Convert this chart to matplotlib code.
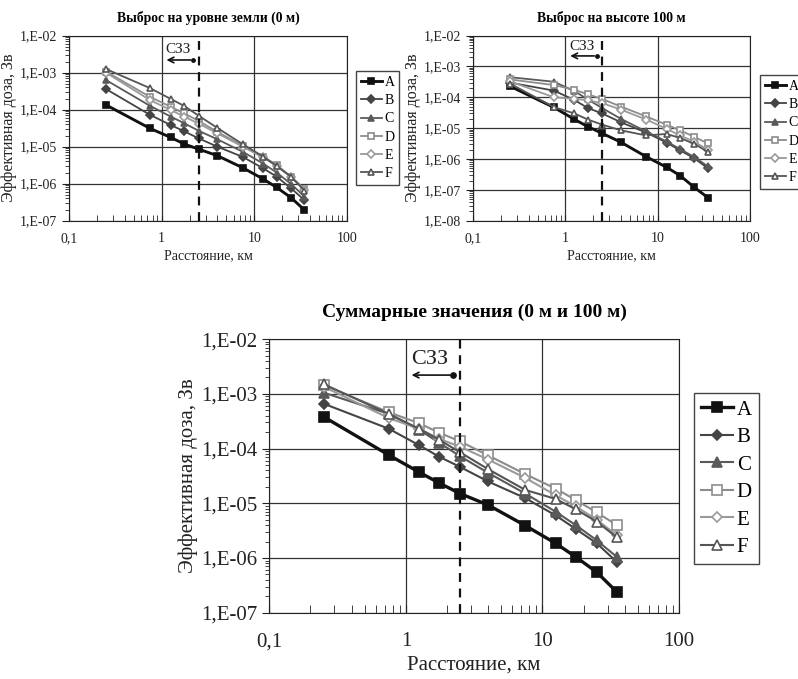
import matplotlib
matplotlib.use("Agg")
import matplotlib.pyplot as plt
from matplotlib.ticker import FixedLocator, FuncFormatter, LogLocator, NullFormatter
import numpy as np

plt.rcParams['font.family'] = ['Liberation Serif', 'DejaVu Serif']

# distance from the source, km
dist = [0.25, 0.75, 1.25, 1.75, 2.5, 4, 7.5, 12.5, 17.5, 25, 35]
classes = ['A', 'B', 'C', 'D', 'E', 'F']

# ground level release (0 m), Sv
ground_A = [1.34e-4, 3.1e-5, 1.78e-5, 1.18e-5, 8.6e-6, 5.7e-6, 2.7e-6, 1.34e-6, 7.9e-7, 4.2e-7, 1.94e-7]
ground_B = [3.6e-4, 7.2e-5, 3.85e-5, 2.6e-5, 1.68e-5, 1.0e-5, 5.3e-6, 2.6e-6, 1.55e-6, 7.5e-7, 3.6e-7]
ground_C = [6.3e-4, 1.26e-4, 6.5e-5, 4.3e-5, 2.7e-5, 1.58e-5, 7.3e-6, 3.5e-6, 2.0e-6, 9.8e-7, 4.5e-7]
ground_D = [1.07e-3, 2.2e-4, 1.2e-4, 7.9e-5, 5.0e-5, 2.5e-5, 1.07e-5, 5.4e-6, 3.2e-6, 1.55e-6, 7.2e-7]
ground_E = [1.0e-3, 1.8e-4, 9.8e-5, 6.5e-5, 4.2e-5, 2.3e-5, 1.0e-5, 5.1e-6, 3.0e-6, 1.5e-6, 6.7e-7]
ground_F = [1.25e-3, 3.8e-4, 1.95e-4, 1.26e-4, 6.9e-5, 3.2e-5, 1.17e-5, 5.4e-6, 3.0e-6, 1.55e-6, 6.5e-7]

# release at 100 m height, Sv
stack_A = [2.3e-4, 4.7e-5, 1.93e-5, 1.12e-5, 6.8e-6, 3.5e-6, 1.19e-6, 5.4e-7, 2.9e-7, 1.2e-7, 5.6e-8]
stack_B = [3.0e-4, 1.65e-4, 8.2e-5, 4.5e-5, 3.0e-5, 1.55e-5, 7.2e-6, 3.4e-6, 1.9e-6, 1.05e-6, 5.0e-7]
stack_C = [4.5e-4, 3.2e-4, 1.6e-4, 8.5e-5, 4.5e-5, 2.0e-5, 7.8e-6, 3.7e-6, 2.1e-6, 1.15e-6, 5.8e-7]
stack_D = [3.8e-4, 2.5e-4, 1.75e-4, 1.26e-4, 8.8e-5, 5.0e-5, 2.4e-5, 1.3e-5, 8.5e-6, 5.2e-6, 3.2e-6]
stack_E = [3.3e-4, 1.0e-4, 9.0e-5, 8.0e-5, 6.5e-5, 4.0e-5, 1.9e-5, 9.5e-6, 5.8e-6, 3.6e-6, 2.0e-6]
stack_F = [2.8e-4, 4.8e-5, 3.0e-5, 1.9e-5, 1.3e-5, 8.5e-6, 5.8e-6, 6.5e-6, 4.8e-6, 3.1e-6, 1.7e-6]

# total (0 m and 100 m), Sv
total_A = [3.8e-4, 7.6e-5, 3.7e-5, 2.35e-5, 1.5e-5, 9.3e-6, 3.9e-6, 1.85e-6, 1.05e-6, 5.5e-7, 2.4e-7]
total_B = [6.6e-4, 2.3e-4, 1.15e-4, 7.1e-5, 4.6e-5, 2.5e-5, 1.24e-5, 6.0e-6, 3.4e-6, 1.85e-6, 8.5e-7]
total_C = [1.05e-3, 4.3e-4, 2.2e-4, 1.28e-4, 7.2e-5, 3.6e-5, 1.5e-5, 7.0e-6, 4.0e-6, 2.1e-6, 1.05e-6]
total_D = [1.45e-3, 4.6e-4, 2.9e-4, 1.95e-4, 1.35e-4, 7.5e-5, 3.4e-5, 1.85e-5, 1.15e-5, 6.8e-6, 4.0e-6]
total_E = [1.35e-3, 3.6e-4, 2.3e-4, 1.5e-4, 1.08e-4, 6.3e-5, 2.9e-5, 1.4e-5, 8.8e-6, 5.0e-6, 2.6e-6]
total_F = [1.5e-3, 4.3e-4, 2.3e-4, 1.45e-4, 8.5e-5, 4.2e-5, 1.75e-5, 1.2e-5, 7.8e-6, 4.6e-6, 2.4e-6]

ground = [ground_A, ground_B, ground_C, ground_D, ground_E, ground_F]
stack = [stack_A, stack_B, stack_C, stack_D, stack_E, stack_F]
total = [total_A, total_B, total_C, total_D, total_E, total_F]

# line colour, marker, filled face, line width factor
styles = [
    ('#111111', 's', True, 1.6),
    ('#444444', 'D', True, 1.0),
    ('#5a5a5a', '^', True, 1.0),
    ('#8c8c8c', 's', False, 1.0),
    ('#9a9a9a', 'D', False, 1.0),
    ('#555555', '^', False, 1.0),
]

szz = 2.5  # sanitary protection zone boundary, km


def y_fmt(v, pos):
    e = int(round(np.log10(v)))
    return '1,E-%02d' % (-e)


def x_fmt(v, pos):
    return {0.1: '0,1', 1: '1', 10: '10', 100: '100'}.get(round(v, 1), '')


def draw(ax, data, title, ymin, fs, ms, lw, legend_pos, title_fs, ylab_fs,
         leg_fs, xpad, tpad):
    for vals, name, (col, mk, filled, k) in zip(data, classes, styles):
        ax.plot(dist, vals, color=col, lw=lw * k, marker=mk,
                markersize=ms * (0.8 if mk == 'D' else 1.0),
                markerfacecolor=col if filled else 'white',
                markeredgecolor=col, markeredgewidth=1.2, label=name, zorder=3)
    ax.set_xscale('log')
    ax.set_yscale('log')
    ax.set_xlim(0.1, 100)
    ax.set_ylim(ymin, 1e-2)
    ax.xaxis.set_major_locator(FixedLocator([0.1, 1, 10, 100]))
    ax.xaxis.set_major_formatter(FuncFormatter(x_fmt))
    ax.xaxis.set_minor_locator(LogLocator(base=10, subs=np.arange(2, 10)))
    ax.xaxis.set_minor_formatter(NullFormatter())
    ax.yaxis.set_major_locator(LogLocator(base=10, numticks=20))
    ax.yaxis.set_major_formatter(FuncFormatter(y_fmt))
    ax.yaxis.set_minor_locator(LogLocator(base=10, subs=np.arange(2, 10), numticks=20))
    ax.yaxis.set_minor_formatter(NullFormatter())
    ax.grid(True, which='major', color='#333333', lw=0.9)
    ax.tick_params(which='both', labelsize=fs, colors='#222222')
    ax.tick_params(axis='x', which='both', direction='in', length=4, pad=xpad)
    ax.tick_params(axis='y', which='major', length=5)
    ax.tick_params(axis='y', which='minor', length=3)
    for s in ax.spines.values():
        s.set_color('#222222')
    ax.axvline(szz, color='#111111', ls=(0, (4, 3)), lw=1.6, zorder=4)
    ax.annotate('', xy=(1.05, 2.2e-3), xytext=(2.2, 2.2e-3),
                arrowprops=dict(arrowstyle='->', color='#111111', lw=1.2))
    ax.plot([2.2], [2.2e-3], 'o', color='#111111', markersize=ms * 0.55)
    ax.text(1.5, 4.3e-3, 'СЗЗ', ha='center', va='center', fontsize=fs + 1, color='#222222')
    ax.set_xlabel('Расстояние, км', fontsize=fs, color='#222222', labelpad=3)
    ax.set_ylabel('Эффективная доза, Зв', fontsize=ylab_fs, color='#222222', labelpad=2)
    ax.set_title(title, fontsize=title_fs, fontweight='bold', pad=tpad)
    leg = ax.legend(loc='upper left', bbox_to_anchor=legend_pos,
                    bbox_transform=ax.figure.transFigure, fontsize=leg_fs,
                    handlelength=1.5, handletextpad=0.2, borderpad=0.35,
                    borderaxespad=0, labelspacing=0.38, fancybox=False,
                    framealpha=1)
    leg.get_frame().set_edgecolor('#444444')
    leg.set_clip_on(False)


fig = plt.figure(figsize=(7.98, 6.79), dpi=100)

ax1 = fig.add_axes([0.0868, 0.675, 0.3476, 0.2725])
draw(ax1, ground, 'Выброс на уровне земли (0 м)', 1e-7, 10, 4.5, 1.3,
     (0.446, 0.8954), 9.8, 11.5, 10, 8, 10)

ax2 = fig.add_axes([0.593, 0.675, 0.3467, 0.2725])
draw(ax2, stack, 'Выброс на высоте 100 м', 1e-8, 10, 4.5, 1.3,
     (0.9524, 0.8895), 9.8, 11.5, 10, 8, 10)

ax3 = fig.add_axes([0.3375, 0.0976, 0.5134, 0.403])
draw(ax3, total, 'Суммарные значения (0 м и 100 м)', 1e-7, 15, 7, 1.5,
     (0.8697, 0.4215), 14, 15, 15, 14, 16)
ax3.tick_params(axis='x', which='both', length=6)

fig.savefig('out.png', dpi=100)
